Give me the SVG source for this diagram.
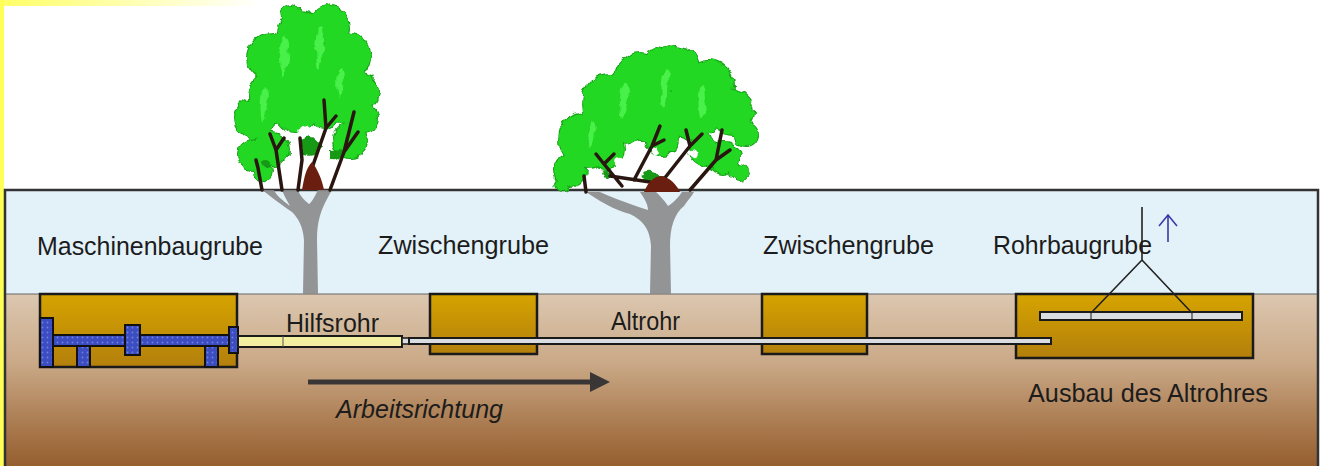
<svg xmlns="http://www.w3.org/2000/svg" width="1320" height="466" viewBox="0 0 1320 466">
  <defs>
    <linearGradient id="soil" x1="0" y1="294" x2="0" y2="466" gradientUnits="userSpaceOnUse">
      <stop offset="0" stop-color="#dcc7b0"/>
      <stop offset="0.4" stop-color="#caa987"/>
      <stop offset="0.75" stop-color="#ab7c51"/>
      <stop offset="1" stop-color="#955e2f"/>
    </linearGradient>
    <linearGradient id="pit" x1="0" y1="0" x2="0" y2="1">
      <stop offset="0" stop-color="#d6a400"/>
      <stop offset="1" stop-color="#b37f0c"/>
    </linearGradient>
    <linearGradient id="topglow" x1="0" y1="0" x2="1" y2="0">
      <stop offset="0" stop-color="#ffff66"/>
      <stop offset="1" stop-color="#ffffff"/>
    </linearGradient>
    <pattern id="dots" width="5" height="5" patternUnits="userSpaceOnUse">
      <rect width="5" height="5" fill="#3b4dc0"/>
      <circle cx="2.5" cy="2.5" r="0.9" fill="#6f80e0"/>
    </pattern>
    <!-- ragged foliage edges -->
    <filter id="rough" x="-10%" y="-10%" width="120%" height="120%">
      <feTurbulence type="fractalNoise" baseFrequency="0.09" numOctaves="2" seed="4" result="n"/>
      <feDisplacementMap in="SourceGraphic" in2="n" scale="9" xChannelSelector="R" yChannelSelector="G"/>
    </filter>
    <marker id="head" viewBox="0 0 10 10" refX="1" refY="5" markerWidth="4.4" markerHeight="4" orient="auto" markerUnits="strokeWidth">
      <path d="M0,0 L10,5 L0,10 z" fill="#3a3636"/>
    </marker>
  </defs>
  <style>
    .lbl { font-family: "Liberation Sans", Arial, sans-serif; font-size: 25px; fill: #1c1c1c; }
    .pit { fill: url(#pit); stroke: #1a1a1a; stroke-width: 2.5; }
    .mach { fill: url(#dots); stroke: #111; stroke-width: 2; }
    .pipe { fill: #d9dde2; stroke: #1a1a1a; stroke-width: 2; }
    .leafedge { fill: #1fb81f; stroke: #17a017; stroke-width: 2; }
    .leaf { fill: #22d822; }
    .leafdark { fill: #139a13; }
    .leaflight { fill: #48f048; }
    .branch { fill: none; stroke: #2a1610; stroke-linecap: round; stroke-linejoin: round; }
    .trunk { fill: #8a8a8a; opacity: 0.9; }
  </style>

  <!-- sky and frame -->
  <rect x="0" y="0" width="1320" height="466" fill="#ffffff"/>
  <rect x="0" y="0" width="260" height="6" fill="url(#topglow)"/>
  <rect x="0" y="0" width="4" height="466" fill="#ffff55"/>

  <!-- ground section -->
  <g id="ground">
    <rect x="5" y="190" width="1313" height="104" fill="#e3f1f9"/>
    <rect x="5" y="294" width="1313" height="172" fill="url(#soil)"/>
    <line x1="5" y1="294" x2="1318" y2="294" stroke="#666" stroke-width="1"/>
    <path d="M5,466 V190 H1318 V466" fill="none" stroke="#333" stroke-width="2.5"/>
  </g>

  <!-- tree 1 -->
  <g id="tree1">
    <path class="trunk" d="M262,190 C270,196 280,204 292,212 C298,218 303,226 304,240 L303,294 L318,294 L317,240 C317,222 320,210 332,190 L318,190 C314,198 311,203 309,204 C304,200 300,196 298,190 L282,190 C284,196 288,202 290,206 C282,200 276,195 274,190 z"/>
    <g filter="url(#rough)">
      <g class="leafedge">
        <circle cx="300" cy="32" r="22"/><circle cx="330" cy="26" r="19"/><circle cx="272" cy="58" r="24"/>
        <circle cx="346" cy="56" r="24"/><circle cx="360" cy="92" r="19"/><circle cx="364" cy="118" r="14"/>
        <circle cx="256" cy="118" r="21"/><circle cx="252" cy="155" r="15"/><circle cx="276" cy="96" r="27"/>
        <circle cx="312" cy="72" r="30"/><circle cx="340" cy="100" r="24"/><circle cx="272" cy="150" r="17"/>
        <circle cx="350" cy="140" r="17"/><circle cx="296" cy="112" r="20"/><circle cx="324" cy="112" r="16"/>
        <circle cx="262" cy="172" r="9"/><circle cx="290" cy="14" r="8"/><circle cx="326" cy="12" r="8"/>
      </g>
      <g class="leaf">
        <circle cx="300" cy="32" r="22"/><circle cx="330" cy="26" r="19"/><circle cx="272" cy="58" r="24"/>
        <circle cx="346" cy="56" r="24"/><circle cx="360" cy="92" r="19"/><circle cx="364" cy="118" r="14"/>
        <circle cx="256" cy="118" r="21"/><circle cx="252" cy="155" r="15"/><circle cx="276" cy="96" r="27"/>
        <circle cx="312" cy="72" r="30"/><circle cx="340" cy="100" r="24"/><circle cx="272" cy="150" r="17"/>
        <circle cx="350" cy="140" r="17"/><circle cx="296" cy="112" r="20"/><circle cx="324" cy="112" r="16"/>
        <circle cx="262" cy="172" r="9"/><circle cx="290" cy="14" r="8"/><circle cx="326" cy="12" r="8"/>
      </g>
      <path class="leaflight" d="M282,40 q6,-10 8,8 q-2,20 -8,30 q-4,-18 0,-38z M318,30 q6,-6 6,10 q-2,22 -6,30 q-4,-20 0,-40z M262,90 q5,-8 6,8 q-2,18 -6,26 q-3,-18 0,-34z M338,70 q5,-6 6,8 q-1,16 -5,22 q-3,-16 -1,-30z"/>
      <path class="leafdark" d="M300,140 q14,-8 22,6 q-6,14 -20,8z M330,150 q10,-6 14,6 q-6,8 -14,4z M262,160 q8,-4 10,8 q-6,6 -10,-8z"/>
      <path fill="#ffffff" d="M298,128 q8,-6 14,2 q-2,10 -12,8z M318,150 q6,-4 10,4 q-4,6 -10,-4z M276,170 q6,-4 8,6 q-6,4 -8,-6z"/>
    </g>
    <path class="branch" stroke-width="3.5" d="M262,190 L258,168 L256,160 M282,190 L276,150 L270,134 M276,150 L284,138 M298,190 L302,160 L300,138 M330,190 L344,152 L354,112 M344,152 L358,132 M312,168 L326,128 L324,100 M326,128 L336,116"/>
    <path fill="#6a1e10" d="M302,190 C304,178 306,168 312,162 C318,170 322,180 324,190 z"/>
  </g>

  <!-- tree 2 -->
  <g id="tree2">
    <path class="trunk" d="M586,192 C598,200 614,210 630,214 C642,220 650,228 651,246 L650,294 L671,294 L670,246 C670,228 674,214 684,206 C688,200 692,196 694,192 L682,192 C678,198 672,204 668,206 C664,200 660,196 656,192 L640,192 C644,198 648,204 648,210 C636,206 618,200 600,192 z"/>
    <g filter="url(#rough)">
      <g class="leafedge">
        <circle cx="586" cy="140" r="28"/><circle cx="570" cy="170" r="16"/><circle cx="610" cy="102" r="28"/>
        <circle cx="640" cy="78" r="25"/><circle cx="676" cy="68" r="22"/><circle cx="708" cy="86" r="25"/>
        <circle cx="732" cy="112" r="22"/><circle cx="746" cy="134" r="12"/><circle cx="724" cy="158" r="16"/>
        <circle cx="652" cy="112" r="30"/><circle cx="692" cy="112" r="28"/><circle cx="606" cy="150" r="18"/>
        <circle cx="704" cy="150" r="15"/><circle cx="622" cy="124" r="20"/><circle cx="662" cy="140" r="16"/>
        <circle cx="740" cy="172" r="8"/><circle cx="562" cy="184" r="7"/><circle cx="655" cy="58" r="8"/>
      </g>
      <g class="leaf">
        <circle cx="586" cy="140" r="28"/><circle cx="570" cy="170" r="16"/><circle cx="610" cy="102" r="28"/>
        <circle cx="640" cy="78" r="25"/><circle cx="676" cy="68" r="22"/><circle cx="708" cy="86" r="25"/>
        <circle cx="732" cy="112" r="22"/><circle cx="746" cy="134" r="12"/><circle cx="724" cy="158" r="16"/>
        <circle cx="652" cy="112" r="30"/><circle cx="692" cy="112" r="28"/><circle cx="606" cy="150" r="18"/>
        <circle cx="704" cy="150" r="15"/><circle cx="622" cy="124" r="20"/><circle cx="662" cy="140" r="16"/>
        <circle cx="740" cy="172" r="8"/><circle cx="562" cy="184" r="7"/><circle cx="655" cy="58" r="8"/>
      </g>
      <path class="leaflight" d="M622,84 q6,-10 8,8 q-2,20 -8,28 q-4,-18 0,-36z M662,74 q6,-8 7,8 q-2,18 -7,26 q-3,-18 0,-34z M700,88 q6,-8 7,8 q-2,18 -7,24 q-3,-16 0,-32z M590,122 q5,-6 6,8 q-1,14 -5,20 q-3,-14 -1,-28z"/>
      <path class="leafdark" d="M640,176 q14,-8 26,4 q-8,10 -26,-4z M600,170 q8,-4 10,6 q-6,6 -10,-6z"/>
      <path fill="#ffffff" d="M614,160 q8,-6 14,4 q-4,10 -14,-4z M686,150 q8,-6 12,4 q-4,8 -12,-4z M650,150 q6,-4 10,4 q-4,6 -10,-4z"/>
    </g>
    <path class="branch" stroke-width="3.5" d="M586,192 L584,176 M622,186 L604,164 L596,154 M604,164 L614,154 M634,180 L652,146 L660,126 M652,146 L664,140 M660,184 L690,146 L702,134 M690,146 L686,130 M690,190 L716,160 L722,130 M716,160 L730,150 M610,176 L650,182"/>
    <path fill="#6a1e10" d="M644,192 C648,182 654,176 662,176 C670,178 676,184 680,192 z"/>
  </g>

  <!-- pits -->
  <g id="maschinenbaugrube">
    <rect class="pit" x="40" y="294" width="197" height="73"/>
    <rect class="mach" x="53" y="335" width="176" height="11"/>
    <rect class="mach" x="40" y="318" width="13" height="49"/>
    <rect class="mach" x="125" y="325" width="15" height="30"/>
    <rect class="mach" x="77" y="346" width="13" height="21"/>
    <rect class="mach" x="205" y="346" width="13" height="21"/>
    <rect class="mach" x="229" y="327" width="9" height="26"/>
  </g>
  <g id="zwischengrube1"><rect class="pit" x="430" y="294" width="107" height="60"/></g>
  <g id="zwischengrube2"><rect class="pit" x="762" y="294" width="105" height="60"/></g>
  <g id="rohrbaugrube">
    <rect class="pit" x="1016" y="294" width="237" height="64"/>
    <rect class="pipe" x="1040" y="312" width="202" height="8"/>
    <line x1="1091" y1="312" x2="1091" y2="320" stroke="#1a1a1a" stroke-width="1"/>
    <line x1="1192" y1="312" x2="1192" y2="320" stroke="#1a1a1a" stroke-width="1"/>
  </g>

  <!-- pipes -->
  <g id="pipes">
    <rect x="238" y="336" width="164" height="11" fill="#f2f0a0" stroke="#1a1a1a" stroke-width="2"/>
    <line x1="283" y1="336" x2="283" y2="347" stroke="#555" stroke-width="1"/>
    <rect x="402" y="338" width="7" height="6" fill="#d9dde2" stroke="#1a1a1a" stroke-width="1.5"/>
    <rect class="pipe" x="409" y="338" width="642" height="6"/>
  </g>

  <!-- connectors: hoist, lift and work direction -->
  <g id="connectors">
    <path d="M1142,207 V260 M1142,260 L1091,313 M1142,260 L1192,313" fill="none" stroke="#222" stroke-width="1.6"/>
    <path d="M1168,242 V215 M1159,226 L1168,215 L1177,226" fill="none" stroke="#3a3aa8" stroke-width="1.6"/>
    <line x1="308" y1="382" x2="592" y2="382" stroke="#3a3636" stroke-width="5" marker-end="url(#head)"/>
  </g>

  <!-- labels -->
  <g id="labels">
    <text class="lbl" x="37" y="255" textLength="226" lengthAdjust="spacingAndGlyphs">Maschinenbaugrube</text>
    <text class="lbl" x="378" y="254" textLength="171" lengthAdjust="spacingAndGlyphs">Zwischengrube</text>
    <text class="lbl" x="763" y="254" textLength="171" lengthAdjust="spacingAndGlyphs">Zwischengrube</text>
    <text class="lbl" x="993" y="254" textLength="159" lengthAdjust="spacingAndGlyphs">Rohrbaugrube</text>
    <text class="lbl" x="286" y="332" textLength="93" lengthAdjust="spacingAndGlyphs">Hilfsrohr</text>
    <text class="lbl" x="611" y="330" textLength="69" lengthAdjust="spacingAndGlyphs">Altrohr</text>
    <text class="lbl" x="336" y="418" font-style="italic" textLength="167" lengthAdjust="spacingAndGlyphs">Arbeitsrichtung</text>
    <text class="lbl" x="1028" y="402" textLength="240" lengthAdjust="spacingAndGlyphs">Ausbau des Altrohres</text>
  </g>
</svg>
